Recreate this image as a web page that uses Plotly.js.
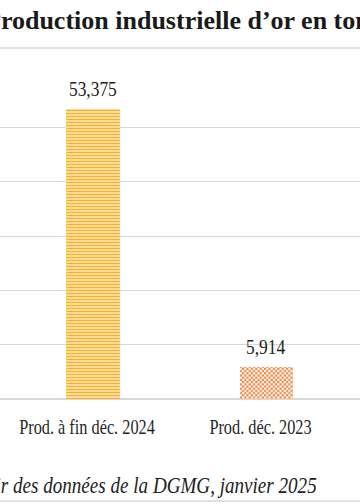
<!DOCTYPE html>
<html>
<head>
<meta charset="utf-8">
<script src="https://cdn.plot.ly/plotly-3.0.1.min.js"></script>
<style>html,body{margin:0;padding:0;background:#fff;}#chart{width:360px;height:504px;}</style>
</head>
<body>
<div id="chart"></div>
<script>
// Data
const categories = ["Prod. à fin déc. 2024", "Prod. déc. 2023"];
const values = [53.375, 5.914];
const titleText = "Production industrielle d’or en tonnes";
const sourceText = "à partir des données de la DGMG, janvier 2025";

const fmt = v => v.toFixed(3).replace('.', ',');

const serif = 'Liberation Serif, Times New Roman, serif';

const traces = [{
  type: 'bar',
  x: [categories[0]],
  y: [values[0]],
  width: 0.31,
  marker: {
    color: '#FDE3A3',
    line: {width: 0},
    pattern: {shape: '-', size: 3, solidity: 0.5, fgcolor: '#F7B131', bgcolor: '#FFEBB8', fillmode: 'replace'}
  },
  hoverinfo: 'skip'
}, {
  type: 'bar',
  x: [categories[1]],
  y: [values[1]],
  width: 0.31,
  marker: {
    color: '#EF8A47',
    line: {width: 0},
    pattern: {shape: '.', size: 3.2, solidity: 0.5, fgcolor: '#FFFFFF', bgcolor: '#EE8440', fillmode: 'replace'}
  },
  hoverinfo: 'skip'
}];

const H = 326, BOT = 399;
const py = px => (BOT - px) / H;

const annotations = categories.map((c, i) => ({
  x: c, y: values[i], xref: 'x', yref: 'y',
  text: fmt(values[i]), showarrow: false,
  yanchor: 'bottom', yshift: 6,
  font: {family: serif, size: 21, color: '#222222'}
}));
annotations.push({
  xref: 'paper', yref: 'paper', x: -17.5 / 360, y: py(37),
  xanchor: 'left', yanchor: 'bottom', align: 'left',
  text: '<b>' + titleText + '</b>', showarrow: false,
  font: {family: serif, size: 26, color: '#1a1a1a'}
});
annotations.push({
  xref: 'paper', yref: 'paper', x: 319 / 360, y: py(500),
  xanchor: 'right', yanchor: 'bottom', align: 'right',
  text: '<i>' + sourceText + '</i>', showarrow: false,
  font: {family: serif, size: 23, color: '#222222'}
});

const layout = {
  width: 360, height: 504,
  margin: {l: 0, r: 0, t: 73, b: 105, pad: 0},
  paper_bgcolor: '#ffffff', plot_bgcolor: '#ffffff',
  showlegend: false,
  bargap: 0,
  font: {family: serif},
  xaxis: {
    type: 'category',
    range: [-0.536, 1.539],
    ticks: '',
    showgrid: false, zeroline: false, showline: false,
    tickfont: {family: serif, size: 22, color: '#262626'},
    ticklabelshift: -6,
    ticklabelstandoff: 12,
    fixedrange: true
  },
  yaxis: {
    range: [0, 60], dtick: 10,
    showticklabels: false, ticks: '',
    showgrid: true, gridcolor: '#D9D9D9', gridwidth: 1,
    zeroline: true, zerolinecolor: '#D9D9D9', zerolinewidth: 1.5,
    showline: false, fixedrange: true
  },
  shapes: [
    {type: 'line', xref: 'paper', yref: 'paper', x0: 0, x1: 1, y0: py(48), y1: py(48), line: {color: '#D9D9D9', width: 1.5}},
    {type: 'line', xref: 'paper', yref: 'paper', x0: 0, x1: 1, y0: py(501), y1: py(501), line: {color: '#D9D9D9', width: 1.5}}
  ],
  annotations: annotations
};

function squeeze(t, ratio) {
  const w = t.getComputedTextLength();
  if (w > 0) {
    t.setAttribute('textLength', (w * ratio).toFixed(1));
    t.setAttribute('lengthAdjust', 'spacingAndGlyphs');
  }
}

// turn the dot pattern of the second bar into a checkerboard
function checker() {
  const NS = 'http://www.w3.org/2000/svg';
  const bars = document.querySelectorAll('.trace.bars');
  if (bars.length < 2) return;
  const p = bars[1].querySelector('path');
  if (!p) return;
  const fill = p.style.fill || p.getAttribute('fill') || '';
  const m = fill.match(/#([^'")]+)/);
  if (!m) return;
  const pat = document.getElementById(m[1]);
  if (!pat) return;
  const s = 4.4, h = s / 2;
  pat.setAttribute('width', s);
  pat.setAttribute('height', s);
  pat.setAttribute('patternUnits', 'userSpaceOnUse');
  pat.removeAttribute('patternTransform');
  while (pat.firstChild) pat.removeChild(pat.firstChild);
  const mk = (x, y, w, hh, c) => {
    const r = document.createElementNS(NS, 'rect');
    r.setAttribute('x', x); r.setAttribute('y', y);
    r.setAttribute('width', w); r.setAttribute('height', hh);
    r.setAttribute('fill', c);
    pat.appendChild(r);
  };
  mk(0, 0, s, s, '#FFFFFF');
  mk(0, 0, h, h, '#EE8440');
  mk(h, h, h, h, '#EE8440');
}

Plotly.newPlot('chart', traces, layout, {displayModeBar: false, staticPlot: true}).then(() => {
  document.querySelectorAll('.xtick text').forEach(t => squeeze(t, 0.74));
  const ann = document.querySelectorAll('.annotation-text');
  ann.forEach((t, i) => { if (i !== 2) squeeze(t, 0.83); });
  checker();
});
</script>
</body>
</html>
